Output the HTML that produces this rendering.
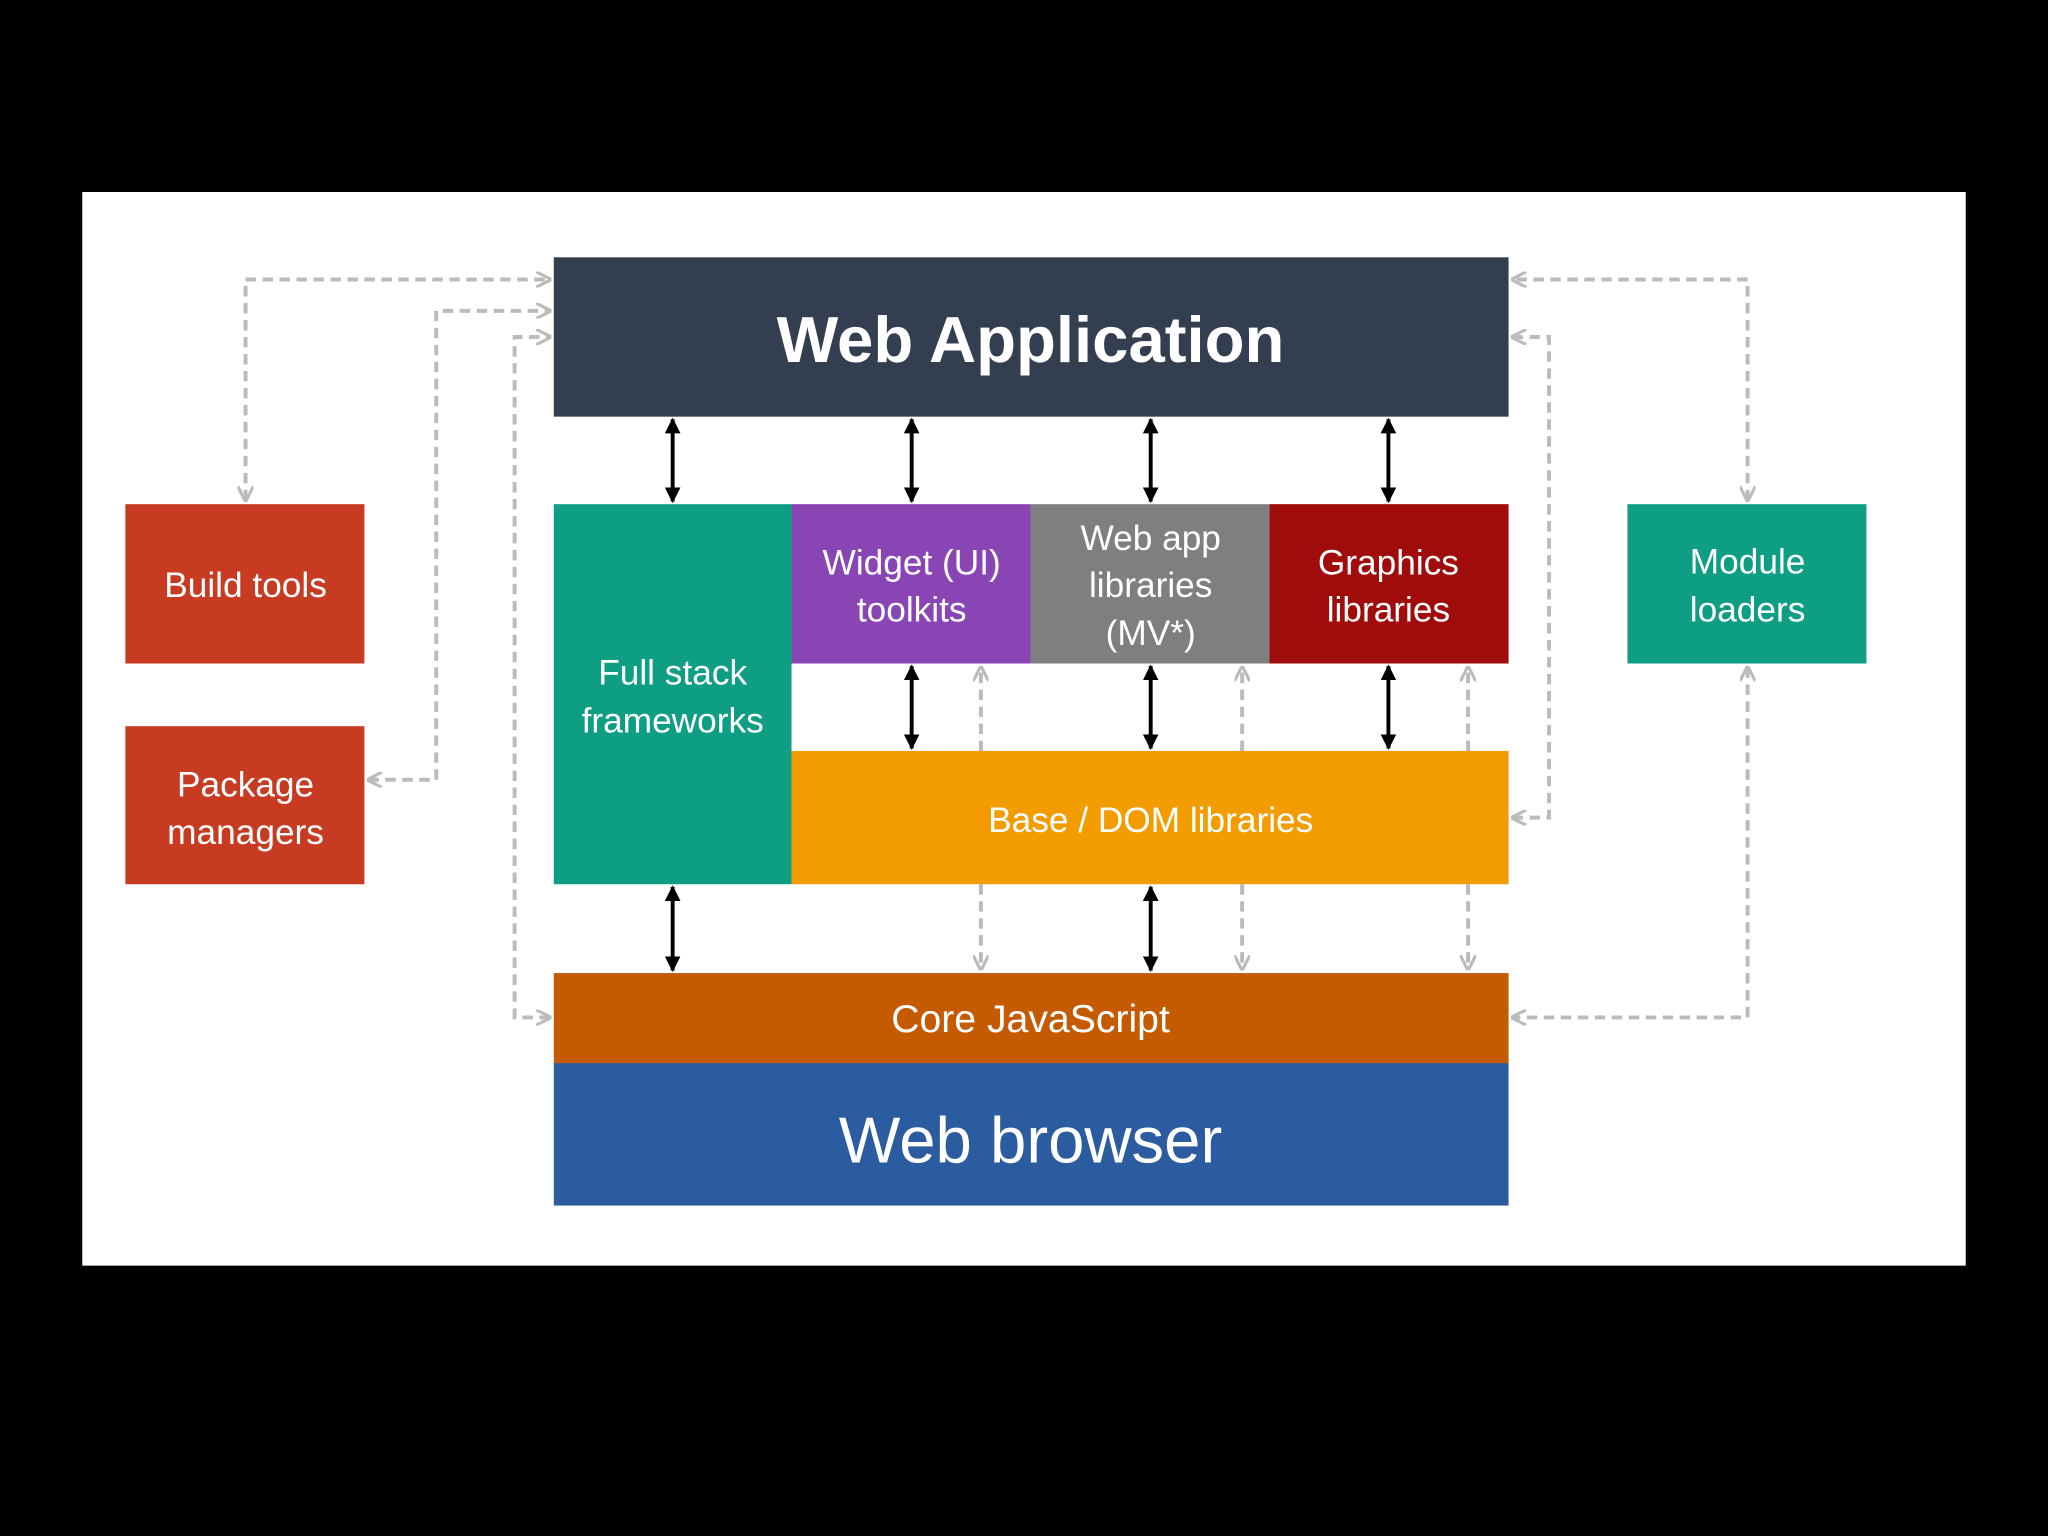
<!DOCTYPE html>
<html><head><meta charset="utf-8"><style>
html,body{margin:0;padding:0;background:#000;width:2048px;height:1536px;overflow:hidden}
svg{display:block}
text{font-family:"Liberation Sans",sans-serif;fill:#fff;text-anchor:middle}
</style></head><body>
<svg width="2048" height="1536" viewBox="0 0 1568 1176" xmlns="http://www.w3.org/2000/svg">
<defs>
<marker id="b" viewBox="0 0 10 10" refX="9" refY="5" markerWidth="4" markerHeight="4" orient="auto-start-reverse"><path d="M0,0L10,5L0,10z" fill="#000"/></marker>
<marker id="g" viewBox="0 0 10 10" refX="9" refY="5" markerWidth="4" markerHeight="4" orient="auto-start-reverse"><path d="M0,0L10,5L0,10" fill="none" stroke="#bbb" stroke-width="2"/></marker>
</defs>
<rect x="0" y="0" width="1568" height="1176" fill="#000"/>
<rect x="63" y="147" width="1442" height="822" fill="#fff"/>
<!-- boxes -->
<rect x="424" y="197" width="731" height="122" fill="#333f50"/>
<text x="789" y="277" font-size="50" font-weight="bold">Web Application</text>
<rect x="424" y="386" width="182" height="291" fill="#0e9e84"/>
<text x="515" y="524" font-size="27">Full stack</text><text x="515" y="561" font-size="27">frameworks</text>
<rect x="606" y="386" width="183" height="122" fill="#8a45b5"/>
<text x="698" y="440" font-size="27">Widget (UI)</text><text x="698" y="476" font-size="27">toolkits</text>
<rect x="789" y="386" width="183" height="122" fill="#7f7f7f"/>
<text x="881" y="421" font-size="27">Web app</text><text x="881" y="457" font-size="27">libraries</text><text x="881" y="494" font-size="27">(MV*)</text>
<rect x="972" y="386" width="183" height="122" fill="#a00c0c"/>
<text x="1063" y="440" font-size="27">Graphics</text><text x="1063" y="476" font-size="27">libraries</text>
<rect x="606" y="575" width="549" height="102" fill="#f39c00"/>
<text x="881" y="637" font-size="27">Base / DOM libraries</text>
<rect x="424" y="745" width="731" height="70" fill="#c55a00"/>
<text x="789" y="790" font-size="30">Core JavaScript</text>
<rect x="424" y="814" width="731" height="109" fill="#2b5ca0"/>
<text x="789" y="890" font-size="50">Web browser</text>
<rect x="96" y="386" width="183" height="122" fill="#c63b22"/>
<text x="188" y="457" font-size="27">Build tools</text>
<rect x="96" y="556" width="183" height="121" fill="#c63b22"/>
<text x="188" y="610" font-size="27">Package</text><text x="188" y="646" font-size="27">managers</text>
<rect x="1246" y="386" width="183" height="122" fill="#0e9e84"/>
<text x="1338" y="439" font-size="27">Module</text><text x="1338" y="476" font-size="27">loaders</text>
<!-- black arrows -->
<g stroke="#000" stroke-width="3" marker-start="url(#b)" marker-end="url(#b)">
<line x1="515" y1="321" x2="515" y2="384"/><line x1="698" y1="321" x2="698" y2="384"/>
<line x1="881" y1="321" x2="881" y2="384"/><line x1="1063" y1="321" x2="1063" y2="384"/>
<line x1="698" y1="510" x2="698" y2="573"/><line x1="881" y1="510" x2="881" y2="573"/>
<line x1="1063" y1="510" x2="1063" y2="573"/>
<line x1="515" y1="679" x2="515" y2="743"/><line x1="881" y1="679" x2="881" y2="743"/>
</g>
<!-- gray dashed -->
<g stroke="#bbb" stroke-width="3" stroke-dasharray="8,5" fill="none">
<line x1="751" y1="575" x2="751" y2="511" marker-end="url(#g)"/>
<line x1="951" y1="575" x2="951" y2="511" marker-end="url(#g)"/>
<line x1="1124" y1="575" x2="1124" y2="511" marker-end="url(#g)"/>
<line x1="751" y1="677" x2="751" y2="742" marker-end="url(#g)"/>
<line x1="951" y1="677" x2="951" y2="742" marker-end="url(#g)"/>
<line x1="1124" y1="677" x2="1124" y2="742" marker-end="url(#g)"/>
<polyline points="188,383 188,214 421,214" marker-start="url(#g)" marker-end="url(#g)"/>
<polyline points="282,597 334,597 334,238 421,238" marker-start="url(#g)" marker-end="url(#g)"/>
<polyline points="421,779 394,779 394,258 421,258" marker-start="url(#g)" marker-end="url(#g)"/>
<polyline points="1338,383 1338,214 1158,214" marker-start="url(#g)" marker-end="url(#g)"/>
<polyline points="1158,258 1186,258 1186,626 1158,626" marker-start="url(#g)" marker-end="url(#g)"/>
<polyline points="1338,511 1338,779 1158,779" marker-start="url(#g)" marker-end="url(#g)"/>
</g>
</svg>
</body></html>
